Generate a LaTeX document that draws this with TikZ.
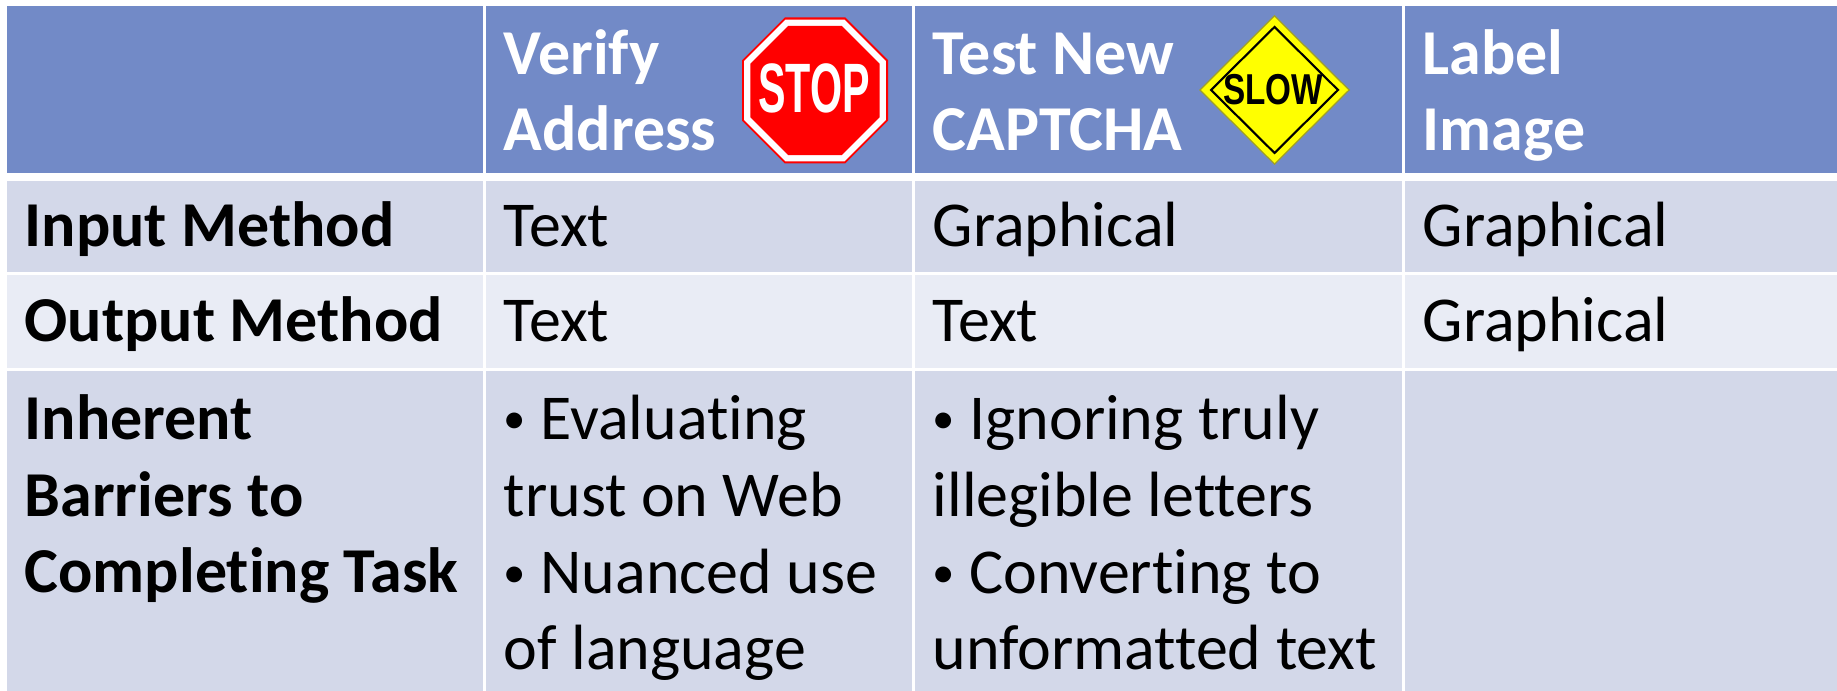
\documentclass[tikz,border=0pt]{standalone}
\usepackage{fontspec}
\setmainfont{Carlito}[Ligatures=NoCommon]
\newfontfamily\signfont{Liberation Sans}
\usepackage{graphicx}
\definecolor{headblue}{RGB}{114,138,199}
\definecolor{rowdark}{RGB}{211,216,233}
\definecolor{rowlight}{RGB}{233,236,245}
\definecolor{stopred}{RGB}{255,0,0}
\definecolor{slowyellow}{RGB}{255,255,0}
\definecolor{slowedge}{RGB}{160,160,40}
\newcommand{\smallbul}{\raisebox{0.09em}{\scalebox{0.7}{•}}}

\begin{document}
\begin{tikzpicture}[
    cell/.style={anchor=base west,align=left,inner sep=0pt,font=\fontsize{18.2}{21.9}\selectfont},
    head/.style={cell,text=white,font=\fontsize{18.2}{21.9}\selectfont\bfseries},
    rowname/.style={cell,font=\fontsize{18.2}{21.9}\selectfont\bfseries}
  ]
    %\draw [very thin, green] (0,0) grid (18.37,6.91);
    \fill [white] (0,0) rectangle (18.37,6.91);

    % cell backgrounds
    \fill [headblue] (0.07,5.18) rectangle (4.83,6.85);
    \fill [headblue] (4.86,5.18) rectangle (9.12,6.85);
    \fill [headblue] (9.15,5.18) rectangle (14.02,6.85);
    \fill [headblue] (14.05,5.18) rectangle (18.37,6.85);
    \fill [rowdark] (0.07,4.19) rectangle (4.83,5.10);
    \fill [rowdark] (4.86,4.19) rectangle (9.12,5.10);
    \fill [rowdark] (9.15,4.19) rectangle (14.02,5.10);
    \fill [rowdark] (14.05,4.19) rectangle (18.37,5.10);
    \fill [rowlight] (0.07,3.23) rectangle (4.83,4.16);
    \fill [rowlight] (4.86,3.23) rectangle (9.12,4.16);
    \fill [rowlight] (9.15,3.23) rectangle (14.02,4.16);
    \fill [rowlight] (14.05,3.23) rectangle (18.37,4.16);
    \fill [rowdark] (0.07,0) rectangle (4.83,3.20);
    \fill [rowdark] (4.86,0) rectangle (9.12,3.20);
    \fill [rowdark] (9.15,0) rectangle (14.02,3.20);
    \fill [rowdark] (14.05,0) rectangle (18.37,3.20);

    % header (base = last line)
    \node at (5.03,5.40) [head] (verify) {Verify\\Address};
    \node at (9.32,5.40) [head] (captcha) {Test New\\CAPTCHA};
    \node at (14.22,5.40) [head] (label) {Label\\Image};

    % stop sign
    \fill [stopred, shift={(8.15,6.005)}] (22.5:0.79) \foreach \a in {67.5,112.5,...,337.5} {-- (\a:0.79)} -- cycle;
    \fill [white, shift={(8.15,6.005)}] (22.5:0.768) \foreach \a in {67.5,112.5,...,337.5} {-- (\a:0.768)} -- cycle;
    \fill [stopred, shift={(8.15,6.005)}] (22.5:0.70) \foreach \a in {67.5,112.5,...,337.5} {-- (\a:0.70)} -- cycle;
    \node at (8.14,6.03) [inner sep=0pt,text=white,font=\signfont\fontsize{19.9}{20}\selectfont\bfseries] (stop) {\scalebox{0.59}[1]{STOP}};

    % slow sign
    \fill [slowedge, shift={(12.745,6.01)}] (0.755,0) -- (0,0.75) -- (-0.755,0) -- (0,-0.75) -- cycle;
    \fill [slowyellow, shift={(12.745,6.01)}] (0.735,0) -- (0,0.73) -- (-0.735,0) -- (0,-0.73) -- cycle;
    \draw [line width=0.6pt, shift={(12.745,6.01)}] (0.635,0) -- (0,0.63) -- (-0.635,0) -- (0,-0.63) -- cycle;
    \node at (12.73,6.015) [inner sep=0pt,font=\signfont\fontsize{12.3}{13}\selectfont\bfseries] (slow) {\scalebox{0.77}[1]{SLOW}};

    % row names
    \node at (0.24,4.44) [rowname] (inrow) {Input Method};
    \node at (0.24,3.49) [rowname] (outrow) {Output Method};
    \node at (0.24,0.98) [rowname] (barrow) {Inherent\\Barriers to\\Completing Task};

    % input / output
    \node at (5.03,4.44) [cell] (verin) {Text};
    \node at (9.32,4.44) [cell] (capin) {Graphical};
    \node at (14.22,4.44) [cell] (labin) {Graphical};
    \node at (5.03,3.49) [cell] (verout) {Text};
    \node at (9.32,3.49) [cell] (capout) {Text};
    \node at (14.22,3.49) [cell] (labout) {Graphical};

    % barriers
    \node at (5.03,0.21) [cell] (verbar) {\smallbul{} Evaluating\\trust on Web\\\smallbul{} Nuanced use\\of language};
    \node at (9.32,0.21) [cell] (capbar) {\smallbul{} Ignoring truly\\illegible letters\\\smallbul{} Converting to\\unformatted text};
\end{tikzpicture}
\end{document}
